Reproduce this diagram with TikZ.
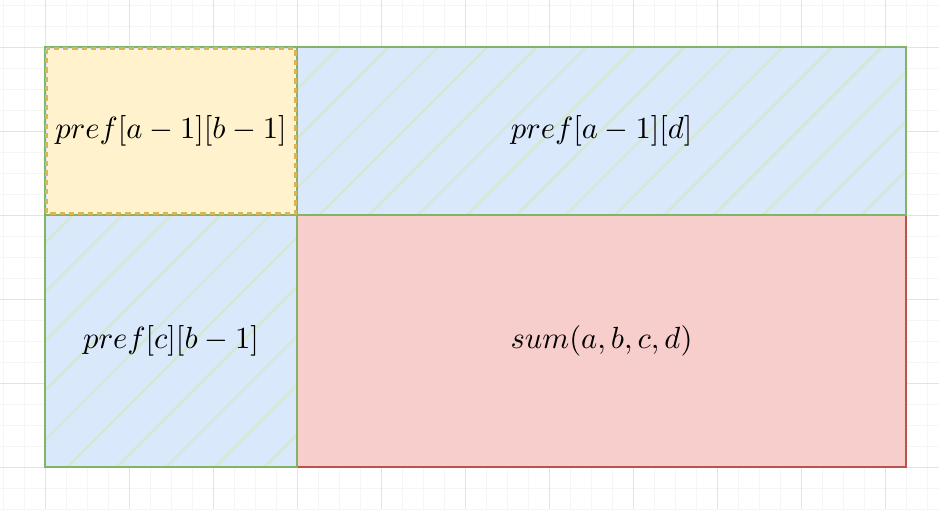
\documentclass[tikz,border=0pt]{standalone}

\definecolor{blueFill}{HTML}{DAE8FC}
\definecolor{greenLine}{HTML}{82B366}
\definecolor{hatchGreen}{HTML}{D5E8D4}
\definecolor{yellowFill}{HTML}{FFF2CC}
\definecolor{yellowLine}{HTML}{D6B656}
\definecolor{redFill}{HTML}{F8CECC}
\definecolor{redLine}{HTML}{B85450}

\tikzstyle{minorgrid} = [draw, color=black!4, line width=0.3pt]
\tikzstyle{majorgrid} = [draw, color=black!11, line width=0.3pt]
\tikzstyle{hatch} = [draw, color=hatchGreen, line width=0.8pt]
\tikzstyle{bluecell} = [fill=blueFill, draw=greenLine, line width=0.7pt]
\tikzstyle{redcell} = [fill=redFill, draw=redLine, line width=0.7pt]
\tikzstyle{yellowcell} = [fill=yellowFill, draw=yellowLine, line width=0.7pt, dash pattern=on 1.7pt off 1.3pt]
\tikzstyle{label} = [inner sep=0pt, font=\normalsize, scale=0.98]

\begin{document}
\begin{tikzpicture}[x=0.32pt, y=-0.32pt]
    \useasboundingbox (0,0) rectangle (939,509);
    \fill[white] (0,0) rectangle (939,509);

    % Background grid
    \foreach \x in {3,24,...,930} \path [minorgrid] (\x,0) -- (\x,509);
    \foreach \y in {5,26,...,509} \path [minorgrid] (0,\y) -- (939,\y);
    \foreach \x in {45,129,...,930} \path [majorgrid] (\x,0) -- (\x,509);
    \foreach \y in {47,131,...,509} \path [majorgrid] (0,\y) -- (939,\y);

    % Cells
    \path [redcell] (297,215) rectangle (906,467);
    \fill [blueFill] (45,47) rectangle (906,215);
    \fill [blueFill] (45,47) rectangle (297,467);
    \begin{scope}
        \clip (45,47) rectangle (906,215) (45,47) rectangle (297,467);
        \foreach \k in {-8,...,14}
            \path [hatch] ({485+49.3*\k},0) -- ({485+49.3*\k-520},520);
    \end{scope}
    \draw [bluecell, fill=none] (45,47) rectangle (906,215);
    \draw [bluecell, fill=none] (45,47) rectangle (297,467);
    \path [yellowcell] (46.5,48.5) rectangle (295.5,213.5);

    % Place nodes
    \node [label] (corner) at (171,131) {$pref[a-1][b-1]$};
    \node [label] (top) at (601.5,131) {$pref[a-1][d]$};
    \node [label] (left) at (171,341) {$pref[c][b-1]$};
    \node [label] (sum) at (601.5,341) {$sum(a,b,c,d)$};
\end{tikzpicture}
\end{document}
